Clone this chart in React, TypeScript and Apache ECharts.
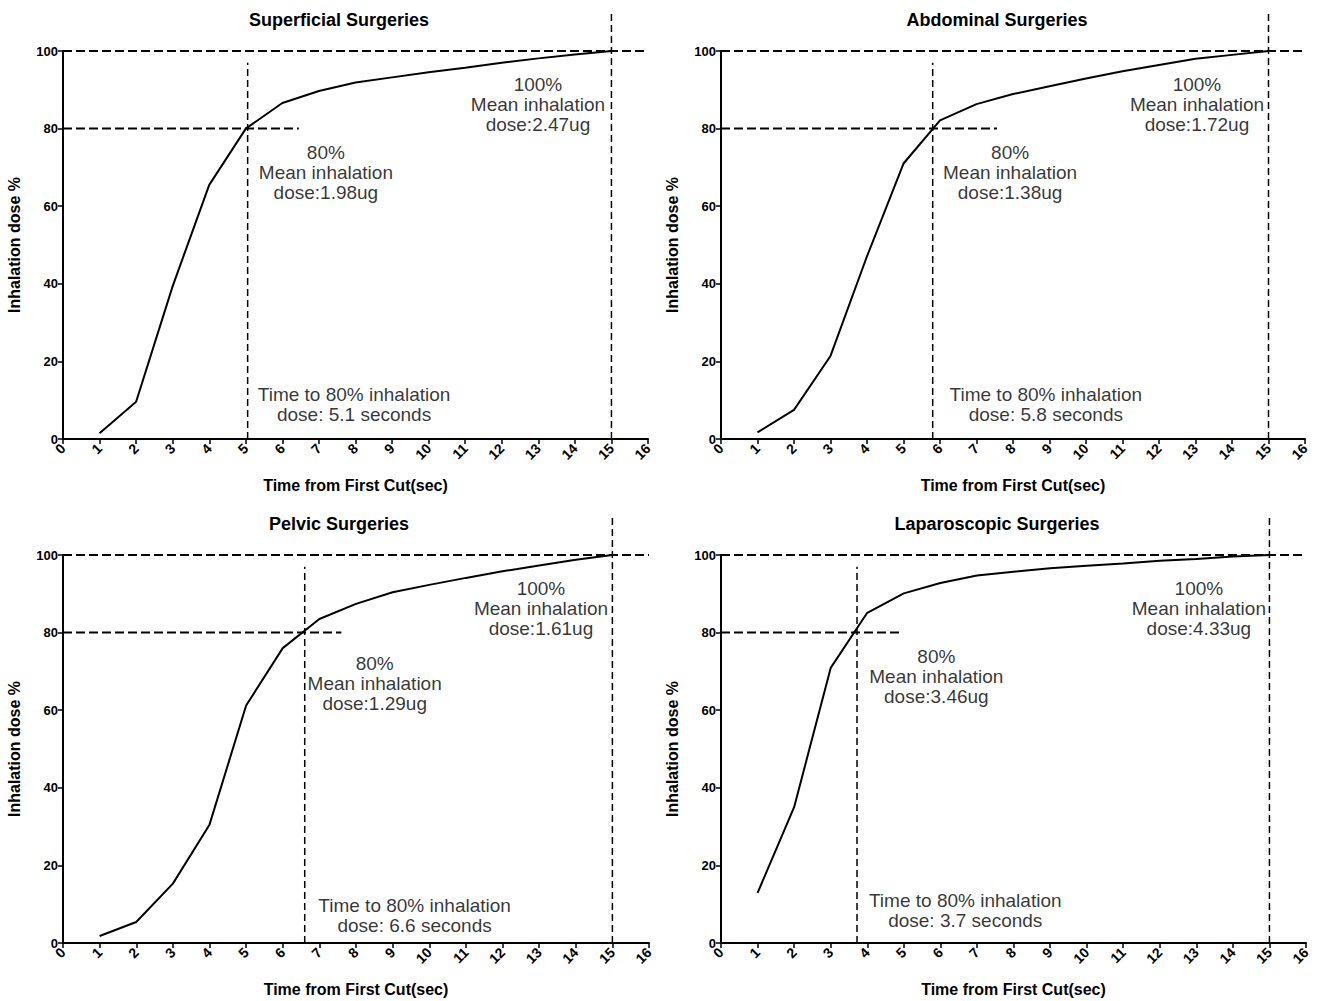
import React, { useEffect, useRef } from "react";
import * as echarts from "echarts";

// ---- data ----
const timeSec = [1, 2, 3, 4, 5, 6, 7, 8, 9, 10, 11, 12, 13, 14, 15];
const superficial = [1.5, 9.6, 39.4, 65.5, 80.0, 86.6, 89.7, 91.9, 93.2, 94.5, 95.7, 97.0, 98.1, 99.1, 100];
const abdominal = [1.7, 7.5, 21.4, 47.1, 71.0, 82.1, 86.3, 88.9, 90.9, 92.9, 94.8, 96.4, 98.0, 99.0, 100];
const pelvic = [1.8, 5.4, 15.3, 30.5, 61.2, 76.0, 83.5, 87.4, 90.4, 92.3, 94.1, 95.8, 97.3, 98.8, 100];
const laparoscopic = [12.9, 35.0, 70.9, 85.1, 90.1, 92.8, 94.7, 95.7, 96.6, 97.2, 97.8, 98.5, 99.0, 99.6, 100];

const panelTitles = ["Superficial Surgeries", "Abdominal Surgeries", "Pelvic Surgeries", "Laparoscopic Surgeries"];
const panelSeries = [superficial, abdominal, pelvic, laparoscopic];
const time80 = [5.05, 5.8, 6.6, 3.72];          // vertical dashed line position (80% reached)
const line80End = [6.45, 7.56, 7.6, 4.93];      // end of the horizontal 80% dashed line
const dose80 = ["1.98ug", "1.38ug", "1.29ug", "3.46ug"];
const dose100 = ["2.47ug", "1.72ug", "1.61ug", "4.33ug"];
const timeText = ["5.1", "5.8", "6.6", "3.7"];
// annotation anchor points in data coordinates [x, y]
const note80Pos = [[7.19, 68.8], [7.92, 68.8], [8.51, 67.0], [5.89, 68.6]];
const note100Pos = [[12.99, 86.3], [13.04, 86.3], [13.05, 86.3], [13.07, 86.3]];
const noteTimePos = [[7.96, 8.8], [8.9, 8.8], [9.6, 7.2], [6.68, 8.5]];

const X_MIN = 0, X_MAX = 16, X_STEP = 1;
const Y_MIN = 0, Y_MAX = 100, Y_STEP = 20;
const LINE80_TOP = 97;
const LINE15_TOP = 110.5;
const FINAL_T = 15;

const FONT = "'Liberation Sans', Arial, Helvetica, sans-serif";

const grids = [
  { left: 63, top: 51, width: 585, height: 388 },
  { left: 721, top: 51, width: 584, height: 388 },
  { left: 63, top: 555, width: 586, height: 388 },
  { left: 721, top: 555, width: 585, height: 388 },
];

function buildOption() {
  const xAxis: any[] = [];
  const yAxis: any[] = [];
  const series: any[] = [];
  const graphic: any[] = [];

  grids.forEach((g, i) => {
    xAxis.push({
      gridIndex: i,
      type: "value",
      min: X_MIN,
      max: X_MAX,
      interval: X_STEP,
      name: "Time from First Cut(sec)",
      nameLocation: "middle",
      nameGap: 38,
      nameTextStyle: { fontFamily: FONT, fontWeight: "bold", fontSize: 16, color: "#000" },
      axisLine: { onZero: false, lineStyle: { color: "#000", width: 2 } },
      axisTick: { length: 5, lineStyle: { color: "#000", width: 1.5 } },
      axisLabel: { rotate: 45, fontFamily: FONT, fontWeight: "bold", fontSize: 14, color: "#000", margin: 7 },
      splitLine: { show: false },
    });
    yAxis.push({
      gridIndex: i,
      type: "value",
      min: Y_MIN,
      max: Y_MAX,
      interval: Y_STEP,
      name: "Inhalation dose %",
      nameLocation: "middle",
      nameGap: 41,
      nameRotate: 90,
      nameTextStyle: { fontFamily: FONT, fontWeight: "bold", fontSize: 16, color: "#000" },
      axisLine: { show: true, onZero: false, lineStyle: { color: "#000", width: 2 } },
      axisTick: { show: true, length: 5, lineStyle: { color: "#000", width: 1.5 } },
      axisLabel: { fontFamily: FONT, fontWeight: "bold", fontSize: 13, color: "#000", margin: 5 },
      splitLine: { show: false },
    });

    const dashedH = { color: "#000", width: 2, type: [9, 4] };
    const dashedV = { color: "#000", width: 1.5, type: [7, 4] };
    const common = {
      xAxisIndex: i,
      yAxisIndex: i,
      type: "line",
      showSymbol: false,
      symbol: "none",
      clip: false,
      silent: true,
    };
    // reference dashed lines
    series.push({ ...common, data: [[X_MIN, Y_MAX], [X_MAX, Y_MAX]], lineStyle: dashedH, z: 3 });
    series.push({ ...common, data: [[X_MIN, 80], [line80End[i], 80]], lineStyle: dashedH, z: 3 });
    series.push({ ...common, data: [[time80[i], 0], [time80[i], LINE80_TOP]], lineStyle: dashedV, z: 3 });
    series.push({ ...common, data: [[FINAL_T, 0], [FINAL_T, LINE15_TOP]], lineStyle: dashedV, z: 3 });
    // main curve
    series.push({
      ...common,
      data: timeSec.map((t, k) => [t, panelSeries[i][k]]),
      lineStyle: { color: "#000", width: 2 },
      z: 4,
    });
    // annotations
    const labelStyle = {
      show: true,
      position: "inside",
      fontFamily: FONT,
      fontSize: 19,
      lineHeight: 20,
      color: "#000",
      textBorderWidth: 0,
      textBorderColor: "transparent",
      align: "center",
      verticalAlign: "middle",
    };
    series.push({
      type: "scatter",
      xAxisIndex: i,
      yAxisIndex: i,
      silent: true,
      clip: false,
      symbolSize: 1,
      itemStyle: { color: "rgba(0,0,0,0)" },
      z: 5,
      data: [
        { value: note80Pos[i], label: { ...labelStyle, formatter: "80%\nMean inhalation\ndose:" + dose80[i] } },
        { value: note100Pos[i], label: { ...labelStyle, formatter: "100%\nMean inhalation\ndose:" + dose100[i] } },
        { value: noteTimePos[i], label: { ...labelStyle, formatter: "Time to 80% inhalation\ndose: " + timeText[i] + " seconds" } },
      ],
    });

    graphic.push({
      type: "text",
      x: g.left + 276,
      y: g.top - 31,
      style: {
        text: panelTitles[i],
        fontFamily: FONT,
        fontWeight: "bold",
        fontSize: 18,
        fill: "#000",
        textAlign: "center",
        textVerticalAlign: "middle",
      },
    });
  });

  return {
    animation: false,
    backgroundColor: "#fff",
    grid: grids.map((g) => ({ ...g, containLabel: false })),
    xAxis,
    yAxis,
    series,
    graphic,
  };
}

export default function App() {
  const ref = useRef<HTMLDivElement>(null);
  useEffect(() => {
    document.body.style.margin = "0";
    const chart = echarts.init(ref.current!, null, { renderer: "svg" });
    chart.setOption(buildOption() as any);
    return () => chart.dispose();
  }, []);
  return <div ref={ref} style={{ width: 1320, height: 1001, background: "#fff" }} />;
}
